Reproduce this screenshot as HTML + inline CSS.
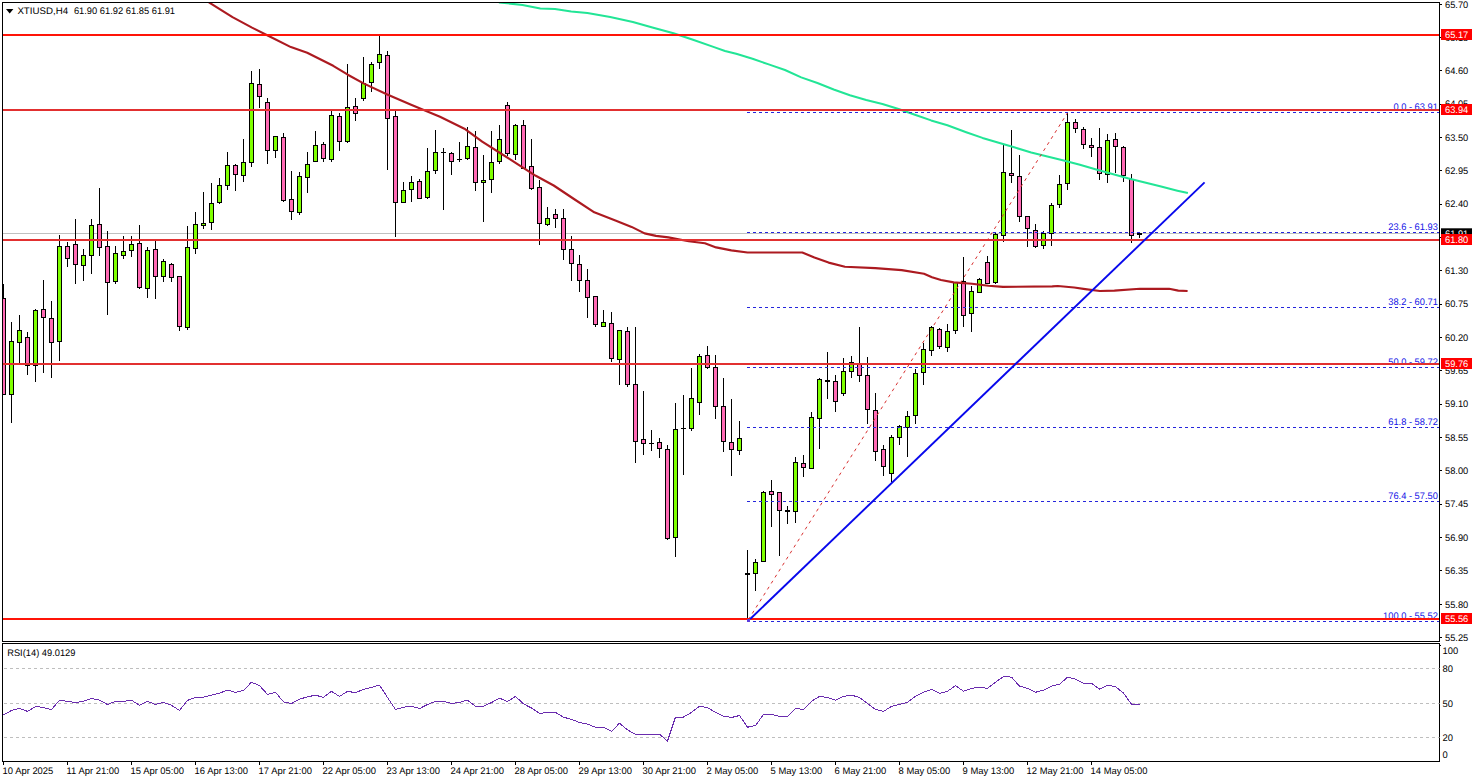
<!DOCTYPE html>
<html><head><meta charset="utf-8"><title>XTIUSD,H4</title>
<style>html,body{margin:0;padding:0;background:#fff;overflow:hidden}svg{display:block;font-family:"Liberation Sans",sans-serif;font-size:9.5px;text-rendering:geometricPrecision}.cr{shape-rendering:crispEdges}text{white-space:pre}</style></head><body>
<svg width="1479" height="782" viewBox="0 0 1479 782">
<rect width="1479" height="782" fill="#fff"/>
<defs><clipPath id="cm"><rect x="3" y="3" width="1436" height="638"/></clipPath><clipPath id="cr"><rect x="3" y="644" width="1436" height="117"/></clipPath></defs>
<rect class="cr" x="3" y="233" width="1436" height="1" fill="#C0C0C0"/>
<g class="cr" clip-path="url(#cm)">
<rect x="3" y="284" width="1" height="111" fill="#000"/>
<rect x="1" y="298" width="5" height="97" fill="#000"/>
<rect x="2" y="299" width="3" height="95" fill="#FF69B4"/>
<rect x="11" y="322" width="1" height="101" fill="#000"/>
<rect x="9" y="341" width="5" height="54" fill="#000"/>
<rect x="10" y="342" width="3" height="52" fill="#7FFF00"/>
<rect x="19" y="315" width="1" height="48" fill="#000"/>
<rect x="17" y="330" width="5" height="13" fill="#000"/>
<rect x="18" y="331" width="3" height="11" fill="#7FFF00"/>
<rect x="27" y="332" width="1" height="43" fill="#000"/>
<rect x="25" y="337" width="5" height="29" fill="#000"/>
<rect x="26" y="338" width="3" height="27" fill="#FF69B4"/>
<rect x="35" y="309" width="1" height="73" fill="#000"/>
<rect x="33" y="310" width="5" height="56" fill="#000"/>
<rect x="34" y="311" width="3" height="54" fill="#7FFF00"/>
<rect x="43" y="280" width="1" height="93" fill="#000"/>
<rect x="41" y="309" width="5" height="9" fill="#000"/>
<rect x="42" y="310" width="3" height="7" fill="#FF69B4"/>
<rect x="51" y="301" width="1" height="77" fill="#000"/>
<rect x="49" y="318" width="5" height="25" fill="#000"/>
<rect x="50" y="319" width="3" height="23" fill="#FF69B4"/>
<rect x="59" y="235" width="1" height="126" fill="#000"/>
<rect x="57" y="246" width="5" height="96" fill="#000"/>
<rect x="58" y="247" width="3" height="94" fill="#7FFF00"/>
<rect x="67" y="242" width="1" height="25" fill="#000"/>
<rect x="65" y="246" width="5" height="13" fill="#000"/>
<rect x="66" y="247" width="3" height="11" fill="#FF69B4"/>
<rect x="75" y="219" width="1" height="65" fill="#000"/>
<rect x="73" y="244" width="5" height="21" fill="#000"/>
<rect x="74" y="245" width="3" height="19" fill="#FF69B4"/>
<rect x="83" y="249" width="1" height="32" fill="#000"/>
<rect x="81" y="255" width="5" height="11" fill="#000"/>
<rect x="82" y="256" width="3" height="9" fill="#7FFF00"/>
<rect x="91" y="219" width="1" height="55" fill="#000"/>
<rect x="89" y="225" width="5" height="31" fill="#000"/>
<rect x="90" y="226" width="3" height="29" fill="#7FFF00"/>
<rect x="99" y="188" width="1" height="68" fill="#000"/>
<rect x="97" y="224" width="5" height="24" fill="#000"/>
<rect x="98" y="225" width="3" height="22" fill="#FF69B4"/>
<rect x="107" y="231" width="1" height="84" fill="#000"/>
<rect x="105" y="246" width="5" height="37" fill="#000"/>
<rect x="106" y="247" width="3" height="35" fill="#FF69B4"/>
<rect x="115" y="246" width="1" height="38" fill="#000"/>
<rect x="113" y="253" width="5" height="29" fill="#000"/>
<rect x="114" y="254" width="3" height="27" fill="#7FFF00"/>
<rect x="123" y="236" width="1" height="23" fill="#000"/>
<rect x="121" y="251" width="5" height="5" fill="#000"/>
<rect x="122" y="252" width="3" height="3" fill="#7FFF00"/>
<rect x="131" y="236" width="1" height="21" fill="#000"/>
<rect x="129" y="244" width="5" height="7" fill="#000"/>
<rect x="130" y="245" width="3" height="5" fill="#7FFF00"/>
<rect x="139" y="225" width="1" height="64" fill="#000"/>
<rect x="137" y="243" width="5" height="45" fill="#000"/>
<rect x="138" y="244" width="3" height="43" fill="#FF69B4"/>
<rect x="147" y="247" width="1" height="51" fill="#000"/>
<rect x="145" y="250" width="5" height="39" fill="#000"/>
<rect x="146" y="251" width="3" height="37" fill="#7FFF00"/>
<rect x="155" y="241" width="1" height="58" fill="#000"/>
<rect x="153" y="249" width="5" height="28" fill="#000"/>
<rect x="154" y="250" width="3" height="26" fill="#FF69B4"/>
<rect x="163" y="259" width="1" height="23" fill="#000"/>
<rect x="161" y="261" width="5" height="16" fill="#000"/>
<rect x="162" y="262" width="3" height="14" fill="#7FFF00"/>
<rect x="171" y="263" width="1" height="19" fill="#000"/>
<rect x="169" y="264" width="5" height="14" fill="#000"/>
<rect x="170" y="265" width="3" height="12" fill="#FF69B4"/>
<rect x="179" y="276" width="1" height="55" fill="#000"/>
<rect x="177" y="276" width="5" height="51" fill="#000"/>
<rect x="178" y="277" width="3" height="49" fill="#FF69B4"/>
<rect x="187" y="226" width="1" height="104" fill="#000"/>
<rect x="185" y="247" width="5" height="81" fill="#000"/>
<rect x="186" y="248" width="3" height="79" fill="#7FFF00"/>
<rect x="195" y="212" width="1" height="42" fill="#000"/>
<rect x="193" y="224" width="5" height="25" fill="#000"/>
<rect x="194" y="225" width="3" height="23" fill="#7FFF00"/>
<rect x="203" y="192" width="1" height="37" fill="#000"/>
<rect x="201" y="223" width="5" height="3" fill="#000"/>
<rect x="202" y="224" width="3" height="1" fill="#7FFF00"/>
<rect x="211" y="183" width="1" height="47" fill="#000"/>
<rect x="209" y="203" width="5" height="20" fill="#000"/>
<rect x="210" y="204" width="3" height="18" fill="#7FFF00"/>
<rect x="219" y="178" width="1" height="26" fill="#000"/>
<rect x="217" y="185" width="5" height="18" fill="#000"/>
<rect x="218" y="186" width="3" height="16" fill="#7FFF00"/>
<rect x="227" y="152" width="1" height="38" fill="#000"/>
<rect x="225" y="165" width="5" height="21" fill="#000"/>
<rect x="226" y="166" width="3" height="19" fill="#7FFF00"/>
<rect x="235" y="164" width="1" height="27" fill="#000"/>
<rect x="233" y="165" width="5" height="10" fill="#000"/>
<rect x="234" y="166" width="3" height="8" fill="#FF69B4"/>
<rect x="243" y="139" width="1" height="43" fill="#000"/>
<rect x="241" y="162" width="5" height="14" fill="#000"/>
<rect x="242" y="163" width="3" height="12" fill="#7FFF00"/>
<rect x="251" y="71" width="1" height="96" fill="#000"/>
<rect x="249" y="83" width="5" height="80" fill="#000"/>
<rect x="250" y="84" width="3" height="78" fill="#7FFF00"/>
<rect x="259" y="69" width="1" height="39" fill="#000"/>
<rect x="257" y="84" width="5" height="13" fill="#000"/>
<rect x="258" y="85" width="3" height="11" fill="#FF69B4"/>
<rect x="267" y="98" width="1" height="66" fill="#000"/>
<rect x="265" y="102" width="5" height="49" fill="#000"/>
<rect x="266" y="103" width="3" height="47" fill="#FF69B4"/>
<rect x="275" y="136" width="1" height="22" fill="#000"/>
<rect x="273" y="136" width="5" height="15" fill="#000"/>
<rect x="274" y="137" width="3" height="13" fill="#7FFF00"/>
<rect x="283" y="133" width="1" height="69" fill="#000"/>
<rect x="281" y="137" width="5" height="64" fill="#000"/>
<rect x="282" y="138" width="3" height="62" fill="#FF69B4"/>
<rect x="291" y="171" width="1" height="49" fill="#000"/>
<rect x="289" y="199" width="5" height="13" fill="#000"/>
<rect x="290" y="200" width="3" height="11" fill="#FF69B4"/>
<rect x="299" y="172" width="1" height="43" fill="#000"/>
<rect x="297" y="176" width="5" height="37" fill="#000"/>
<rect x="298" y="177" width="3" height="35" fill="#7FFF00"/>
<rect x="307" y="152" width="1" height="41" fill="#000"/>
<rect x="305" y="164" width="5" height="14" fill="#000"/>
<rect x="306" y="165" width="3" height="12" fill="#7FFF00"/>
<rect x="315" y="131" width="1" height="31" fill="#000"/>
<rect x="313" y="145" width="5" height="17" fill="#000"/>
<rect x="314" y="146" width="3" height="15" fill="#7FFF00"/>
<rect x="323" y="142" width="1" height="20" fill="#000"/>
<rect x="321" y="144" width="5" height="15" fill="#000"/>
<rect x="322" y="145" width="3" height="13" fill="#FF69B4"/>
<rect x="331" y="111" width="1" height="51" fill="#000"/>
<rect x="329" y="115" width="5" height="45" fill="#000"/>
<rect x="330" y="116" width="3" height="43" fill="#7FFF00"/>
<rect x="339" y="113" width="1" height="38" fill="#000"/>
<rect x="337" y="116" width="5" height="26" fill="#000"/>
<rect x="338" y="117" width="3" height="24" fill="#FF69B4"/>
<rect x="347" y="64" width="1" height="79" fill="#000"/>
<rect x="345" y="107" width="5" height="35" fill="#000"/>
<rect x="346" y="108" width="3" height="33" fill="#7FFF00"/>
<rect x="355" y="98" width="1" height="23" fill="#000"/>
<rect x="353" y="106" width="5" height="8" fill="#000"/>
<rect x="354" y="107" width="3" height="6" fill="#FF69B4"/>
<rect x="363" y="57" width="1" height="44" fill="#000"/>
<rect x="361" y="83" width="5" height="16" fill="#000"/>
<rect x="362" y="84" width="3" height="14" fill="#7FFF00"/>
<rect x="371" y="62" width="1" height="30" fill="#000"/>
<rect x="369" y="64" width="5" height="19" fill="#000"/>
<rect x="370" y="65" width="3" height="17" fill="#7FFF00"/>
<rect x="379" y="36" width="1" height="33" fill="#000"/>
<rect x="377" y="54" width="5" height="9" fill="#000"/>
<rect x="378" y="55" width="3" height="7" fill="#7FFF00"/>
<rect x="387" y="51" width="1" height="119" fill="#000"/>
<rect x="385" y="55" width="5" height="64" fill="#000"/>
<rect x="386" y="56" width="3" height="62" fill="#FF69B4"/>
<rect x="395" y="111" width="1" height="126" fill="#000"/>
<rect x="393" y="116" width="5" height="87" fill="#000"/>
<rect x="394" y="117" width="3" height="85" fill="#FF69B4"/>
<rect x="403" y="182" width="1" height="21" fill="#000"/>
<rect x="401" y="190" width="5" height="13" fill="#000"/>
<rect x="402" y="191" width="3" height="11" fill="#7FFF00"/>
<rect x="411" y="176" width="1" height="26" fill="#000"/>
<rect x="409" y="182" width="5" height="8" fill="#000"/>
<rect x="410" y="183" width="3" height="6" fill="#7FFF00"/>
<rect x="419" y="179" width="1" height="20" fill="#000"/>
<rect x="417" y="181" width="5" height="18" fill="#000"/>
<rect x="418" y="182" width="3" height="16" fill="#FF69B4"/>
<rect x="427" y="148" width="1" height="51" fill="#000"/>
<rect x="425" y="171" width="5" height="27" fill="#000"/>
<rect x="426" y="172" width="3" height="25" fill="#7FFF00"/>
<rect x="435" y="130" width="1" height="44" fill="#000"/>
<rect x="433" y="152" width="5" height="19" fill="#000"/>
<rect x="434" y="153" width="3" height="17" fill="#7FFF00"/>
<rect x="443" y="148" width="1" height="62" fill="#000"/>
<rect x="441" y="152" width="5" height="1" fill="#000"/>
<rect x="451" y="152" width="1" height="23" fill="#000"/>
<rect x="449" y="153" width="5" height="9" fill="#000"/>
<rect x="450" y="154" width="3" height="7" fill="#FF69B4"/>
<rect x="459" y="142" width="1" height="20" fill="#000"/>
<rect x="457" y="159" width="5" height="1" fill="#000"/>
<rect x="467" y="127" width="1" height="33" fill="#000"/>
<rect x="465" y="146" width="5" height="13" fill="#000"/>
<rect x="466" y="147" width="3" height="11" fill="#7FFF00"/>
<rect x="475" y="131" width="1" height="60" fill="#000"/>
<rect x="473" y="147" width="5" height="36" fill="#000"/>
<rect x="474" y="148" width="3" height="34" fill="#FF69B4"/>
<rect x="483" y="155" width="1" height="67" fill="#000"/>
<rect x="481" y="180" width="5" height="3" fill="#000"/>
<rect x="482" y="181" width="3" height="1" fill="#7FFF00"/>
<rect x="491" y="131" width="1" height="62" fill="#000"/>
<rect x="489" y="162" width="5" height="18" fill="#000"/>
<rect x="490" y="163" width="3" height="16" fill="#7FFF00"/>
<rect x="499" y="125" width="1" height="39" fill="#000"/>
<rect x="497" y="139" width="5" height="23" fill="#000"/>
<rect x="498" y="140" width="3" height="21" fill="#7FFF00"/>
<rect x="507" y="102" width="1" height="54" fill="#000"/>
<rect x="505" y="105" width="5" height="49" fill="#000"/>
<rect x="506" y="106" width="3" height="47" fill="#FF69B4"/>
<rect x="515" y="124" width="1" height="36" fill="#000"/>
<rect x="513" y="125" width="5" height="30" fill="#000"/>
<rect x="514" y="126" width="3" height="28" fill="#7FFF00"/>
<rect x="523" y="120" width="1" height="49" fill="#000"/>
<rect x="521" y="125" width="5" height="44" fill="#000"/>
<rect x="522" y="126" width="3" height="42" fill="#FF69B4"/>
<rect x="531" y="139" width="1" height="51" fill="#000"/>
<rect x="529" y="166" width="5" height="23" fill="#000"/>
<rect x="530" y="167" width="3" height="21" fill="#FF69B4"/>
<rect x="539" y="180" width="1" height="65" fill="#000"/>
<rect x="537" y="187" width="5" height="37" fill="#000"/>
<rect x="538" y="188" width="3" height="35" fill="#FF69B4"/>
<rect x="547" y="207" width="1" height="19" fill="#000"/>
<rect x="545" y="218" width="5" height="7" fill="#000"/>
<rect x="546" y="219" width="3" height="5" fill="#7FFF00"/>
<rect x="555" y="209" width="1" height="19" fill="#000"/>
<rect x="553" y="214" width="5" height="5" fill="#000"/>
<rect x="554" y="215" width="3" height="3" fill="#FF69B4"/>
<rect x="563" y="209" width="1" height="51" fill="#000"/>
<rect x="561" y="218" width="5" height="32" fill="#000"/>
<rect x="562" y="219" width="3" height="30" fill="#FF69B4"/>
<rect x="571" y="236" width="1" height="45" fill="#000"/>
<rect x="569" y="249" width="5" height="15" fill="#000"/>
<rect x="570" y="250" width="3" height="13" fill="#FF69B4"/>
<rect x="579" y="255" width="1" height="37" fill="#000"/>
<rect x="577" y="264" width="5" height="17" fill="#000"/>
<rect x="578" y="265" width="3" height="15" fill="#FF69B4"/>
<rect x="587" y="269" width="1" height="49" fill="#000"/>
<rect x="585" y="280" width="5" height="18" fill="#000"/>
<rect x="586" y="281" width="3" height="16" fill="#FF69B4"/>
<rect x="595" y="296" width="1" height="31" fill="#000"/>
<rect x="593" y="296" width="5" height="29" fill="#000"/>
<rect x="594" y="297" width="3" height="27" fill="#FF69B4"/>
<rect x="603" y="310" width="1" height="17" fill="#000"/>
<rect x="601" y="322" width="5" height="5" fill="#000"/>
<rect x="602" y="323" width="3" height="3" fill="#7FFF00"/>
<rect x="611" y="312" width="1" height="50" fill="#000"/>
<rect x="609" y="323" width="5" height="36" fill="#000"/>
<rect x="610" y="324" width="3" height="34" fill="#FF69B4"/>
<rect x="619" y="330" width="1" height="55" fill="#000"/>
<rect x="617" y="330" width="5" height="30" fill="#000"/>
<rect x="618" y="331" width="3" height="28" fill="#7FFF00"/>
<rect x="627" y="327" width="1" height="60" fill="#000"/>
<rect x="625" y="331" width="5" height="54" fill="#000"/>
<rect x="626" y="332" width="3" height="52" fill="#FF69B4"/>
<rect x="635" y="327" width="1" height="136" fill="#000"/>
<rect x="633" y="384" width="5" height="58" fill="#000"/>
<rect x="634" y="385" width="3" height="56" fill="#FF69B4"/>
<rect x="643" y="391" width="1" height="64" fill="#000"/>
<rect x="641" y="439" width="5" height="5" fill="#000"/>
<rect x="642" y="440" width="3" height="3" fill="#FF69B4"/>
<rect x="651" y="430" width="1" height="21" fill="#000"/>
<rect x="649" y="443" width="5" height="1" fill="#000"/>
<rect x="659" y="438" width="1" height="20" fill="#000"/>
<rect x="657" y="442" width="5" height="7" fill="#000"/>
<rect x="658" y="443" width="3" height="5" fill="#FF69B4"/>
<rect x="667" y="445" width="1" height="95" fill="#000"/>
<rect x="665" y="449" width="5" height="90" fill="#000"/>
<rect x="666" y="450" width="3" height="88" fill="#FF69B4"/>
<rect x="675" y="403" width="1" height="154" fill="#000"/>
<rect x="673" y="429" width="5" height="109" fill="#000"/>
<rect x="674" y="430" width="3" height="107" fill="#7FFF00"/>
<rect x="683" y="395" width="1" height="80" fill="#000"/>
<rect x="681" y="428" width="5" height="1" fill="#000"/>
<rect x="691" y="368" width="1" height="63" fill="#000"/>
<rect x="689" y="398" width="5" height="31" fill="#000"/>
<rect x="690" y="399" width="3" height="29" fill="#7FFF00"/>
<rect x="699" y="354" width="1" height="61" fill="#000"/>
<rect x="697" y="356" width="5" height="47" fill="#000"/>
<rect x="698" y="357" width="3" height="45" fill="#7FFF00"/>
<rect x="707" y="346" width="1" height="23" fill="#000"/>
<rect x="705" y="355" width="5" height="13" fill="#000"/>
<rect x="706" y="356" width="3" height="11" fill="#FF69B4"/>
<rect x="715" y="355" width="1" height="64" fill="#000"/>
<rect x="713" y="367" width="5" height="40" fill="#000"/>
<rect x="714" y="368" width="3" height="38" fill="#FF69B4"/>
<rect x="723" y="378" width="1" height="74" fill="#000"/>
<rect x="721" y="406" width="5" height="36" fill="#000"/>
<rect x="722" y="407" width="3" height="34" fill="#FF69B4"/>
<rect x="731" y="399" width="1" height="77" fill="#000"/>
<rect x="729" y="442" width="5" height="8" fill="#000"/>
<rect x="730" y="443" width="3" height="6" fill="#FF69B4"/>
<rect x="739" y="421" width="1" height="34" fill="#000"/>
<rect x="737" y="438" width="5" height="13" fill="#000"/>
<rect x="738" y="439" width="3" height="11" fill="#7FFF00"/>
<rect x="747" y="550" width="1" height="70" fill="#000"/>
<rect x="745" y="573" width="5" height="2" fill="#000"/>
<rect x="755" y="559" width="1" height="32" fill="#000"/>
<rect x="753" y="562" width="5" height="12" fill="#000"/>
<rect x="754" y="563" width="3" height="10" fill="#7FFF00"/>
<rect x="763" y="491" width="1" height="71" fill="#000"/>
<rect x="761" y="492" width="5" height="70" fill="#000"/>
<rect x="762" y="493" width="3" height="68" fill="#7FFF00"/>
<rect x="771" y="480" width="1" height="47" fill="#000"/>
<rect x="769" y="491" width="5" height="4" fill="#000"/>
<rect x="770" y="492" width="3" height="2" fill="#FF69B4"/>
<rect x="779" y="492" width="1" height="64" fill="#000"/>
<rect x="777" y="492" width="5" height="19" fill="#000"/>
<rect x="778" y="493" width="3" height="17" fill="#FF69B4"/>
<rect x="787" y="506" width="1" height="18" fill="#000"/>
<rect x="785" y="510" width="5" height="2" fill="#000"/>
<rect x="795" y="457" width="1" height="66" fill="#000"/>
<rect x="793" y="462" width="5" height="50" fill="#000"/>
<rect x="794" y="463" width="3" height="48" fill="#7FFF00"/>
<rect x="803" y="455" width="1" height="22" fill="#000"/>
<rect x="801" y="463" width="5" height="5" fill="#000"/>
<rect x="802" y="464" width="3" height="3" fill="#FF69B4"/>
<rect x="811" y="412" width="1" height="57" fill="#000"/>
<rect x="809" y="417" width="5" height="52" fill="#000"/>
<rect x="810" y="418" width="3" height="50" fill="#7FFF00"/>
<rect x="819" y="378" width="1" height="71" fill="#000"/>
<rect x="817" y="379" width="5" height="40" fill="#000"/>
<rect x="818" y="380" width="3" height="38" fill="#7FFF00"/>
<rect x="827" y="352" width="1" height="47" fill="#000"/>
<rect x="825" y="380" width="5" height="2" fill="#000"/>
<rect x="835" y="375" width="1" height="37" fill="#000"/>
<rect x="833" y="381" width="5" height="21" fill="#000"/>
<rect x="834" y="382" width="3" height="19" fill="#FF69B4"/>
<rect x="843" y="358" width="1" height="38" fill="#000"/>
<rect x="841" y="371" width="5" height="23" fill="#000"/>
<rect x="842" y="372" width="3" height="21" fill="#7FFF00"/>
<rect x="851" y="356" width="1" height="22" fill="#000"/>
<rect x="849" y="362" width="5" height="10" fill="#000"/>
<rect x="850" y="363" width="3" height="8" fill="#7FFF00"/>
<rect x="859" y="327" width="1" height="55" fill="#000"/>
<rect x="857" y="363" width="5" height="13" fill="#000"/>
<rect x="858" y="364" width="3" height="11" fill="#FF69B4"/>
<rect x="867" y="357" width="1" height="67" fill="#000"/>
<rect x="865" y="375" width="5" height="35" fill="#000"/>
<rect x="866" y="376" width="3" height="33" fill="#FF69B4"/>
<rect x="875" y="393" width="1" height="68" fill="#000"/>
<rect x="873" y="410" width="5" height="42" fill="#000"/>
<rect x="874" y="411" width="3" height="40" fill="#FF69B4"/>
<rect x="883" y="445" width="1" height="31" fill="#000"/>
<rect x="881" y="449" width="5" height="18" fill="#000"/>
<rect x="882" y="450" width="3" height="16" fill="#FF69B4"/>
<rect x="891" y="435" width="1" height="47" fill="#000"/>
<rect x="889" y="437" width="5" height="37" fill="#000"/>
<rect x="890" y="438" width="3" height="35" fill="#7FFF00"/>
<rect x="899" y="425" width="1" height="20" fill="#000"/>
<rect x="897" y="426" width="5" height="12" fill="#000"/>
<rect x="898" y="427" width="3" height="10" fill="#7FFF00"/>
<rect x="907" y="411" width="1" height="46" fill="#000"/>
<rect x="905" y="416" width="5" height="12" fill="#000"/>
<rect x="906" y="417" width="3" height="10" fill="#7FFF00"/>
<rect x="915" y="369" width="1" height="55" fill="#000"/>
<rect x="913" y="373" width="5" height="43" fill="#000"/>
<rect x="914" y="374" width="3" height="41" fill="#7FFF00"/>
<rect x="923" y="343" width="1" height="42" fill="#000"/>
<rect x="921" y="349" width="5" height="24" fill="#000"/>
<rect x="922" y="350" width="3" height="22" fill="#7FFF00"/>
<rect x="931" y="326" width="1" height="30" fill="#000"/>
<rect x="929" y="327" width="5" height="24" fill="#000"/>
<rect x="930" y="328" width="3" height="22" fill="#7FFF00"/>
<rect x="939" y="328" width="1" height="21" fill="#000"/>
<rect x="937" y="329" width="5" height="18" fill="#000"/>
<rect x="938" y="330" width="3" height="16" fill="#FF69B4"/>
<rect x="947" y="324" width="1" height="28" fill="#000"/>
<rect x="945" y="331" width="5" height="17" fill="#000"/>
<rect x="946" y="332" width="3" height="15" fill="#7FFF00"/>
<rect x="955" y="282" width="1" height="52" fill="#000"/>
<rect x="953" y="282" width="5" height="49" fill="#000"/>
<rect x="954" y="283" width="3" height="47" fill="#7FFF00"/>
<rect x="963" y="257" width="1" height="70" fill="#000"/>
<rect x="961" y="281" width="5" height="35" fill="#000"/>
<rect x="962" y="282" width="3" height="33" fill="#FF69B4"/>
<rect x="971" y="286" width="1" height="46" fill="#000"/>
<rect x="969" y="291" width="5" height="23" fill="#000"/>
<rect x="970" y="292" width="3" height="21" fill="#7FFF00"/>
<rect x="979" y="278" width="1" height="15" fill="#000"/>
<rect x="977" y="279" width="5" height="14" fill="#000"/>
<rect x="978" y="280" width="3" height="12" fill="#7FFF00"/>
<rect x="987" y="256" width="1" height="28" fill="#000"/>
<rect x="985" y="262" width="5" height="22" fill="#000"/>
<rect x="986" y="263" width="3" height="20" fill="#FF69B4"/>
<rect x="995" y="233" width="1" height="51" fill="#000"/>
<rect x="993" y="234" width="5" height="49" fill="#000"/>
<rect x="994" y="235" width="3" height="47" fill="#7FFF00"/>
<rect x="1003" y="145" width="1" height="97" fill="#000"/>
<rect x="1001" y="172" width="5" height="64" fill="#000"/>
<rect x="1002" y="173" width="3" height="62" fill="#7FFF00"/>
<rect x="1011" y="130" width="1" height="53" fill="#000"/>
<rect x="1009" y="173" width="5" height="3" fill="#000"/>
<rect x="1010" y="174" width="3" height="1" fill="#FF69B4"/>
<rect x="1019" y="155" width="1" height="67" fill="#000"/>
<rect x="1017" y="176" width="5" height="41" fill="#000"/>
<rect x="1018" y="177" width="3" height="39" fill="#FF69B4"/>
<rect x="1027" y="216" width="1" height="31" fill="#000"/>
<rect x="1025" y="216" width="5" height="13" fill="#000"/>
<rect x="1026" y="217" width="3" height="11" fill="#FF69B4"/>
<rect x="1035" y="224" width="1" height="24" fill="#000"/>
<rect x="1033" y="230" width="5" height="17" fill="#000"/>
<rect x="1034" y="231" width="3" height="15" fill="#FF69B4"/>
<rect x="1043" y="231" width="1" height="18" fill="#000"/>
<rect x="1041" y="233" width="5" height="13" fill="#000"/>
<rect x="1042" y="234" width="3" height="11" fill="#7FFF00"/>
<rect x="1051" y="203" width="1" height="43" fill="#000"/>
<rect x="1049" y="205" width="5" height="29" fill="#000"/>
<rect x="1050" y="206" width="3" height="27" fill="#7FFF00"/>
<rect x="1059" y="175" width="1" height="33" fill="#000"/>
<rect x="1057" y="184" width="5" height="21" fill="#000"/>
<rect x="1058" y="185" width="3" height="19" fill="#7FFF00"/>
<rect x="1067" y="113" width="1" height="77" fill="#000"/>
<rect x="1065" y="122" width="5" height="62" fill="#000"/>
<rect x="1066" y="123" width="3" height="60" fill="#7FFF00"/>
<rect x="1075" y="119" width="1" height="14" fill="#000"/>
<rect x="1073" y="122" width="5" height="7" fill="#000"/>
<rect x="1074" y="123" width="3" height="5" fill="#FF69B4"/>
<rect x="1083" y="127" width="1" height="22" fill="#000"/>
<rect x="1081" y="129" width="5" height="16" fill="#000"/>
<rect x="1082" y="130" width="3" height="14" fill="#FF69B4"/>
<rect x="1091" y="138" width="1" height="19" fill="#000"/>
<rect x="1089" y="145" width="5" height="3" fill="#000"/>
<rect x="1090" y="146" width="3" height="1" fill="#FF69B4"/>
<rect x="1099" y="128" width="1" height="52" fill="#000"/>
<rect x="1097" y="147" width="5" height="27" fill="#000"/>
<rect x="1098" y="148" width="3" height="25" fill="#FF69B4"/>
<rect x="1107" y="134" width="1" height="49" fill="#000"/>
<rect x="1105" y="140" width="5" height="35" fill="#000"/>
<rect x="1106" y="141" width="3" height="33" fill="#7FFF00"/>
<rect x="1115" y="133" width="1" height="40" fill="#000"/>
<rect x="1113" y="139" width="5" height="8" fill="#000"/>
<rect x="1114" y="140" width="3" height="6" fill="#FF69B4"/>
<rect x="1123" y="146" width="1" height="36" fill="#000"/>
<rect x="1121" y="147" width="5" height="29" fill="#000"/>
<rect x="1122" y="148" width="3" height="27" fill="#FF69B4"/>
<rect x="1131" y="174" width="1" height="69" fill="#000"/>
<rect x="1129" y="179" width="5" height="57" fill="#000"/>
<rect x="1130" y="180" width="3" height="55" fill="#FF69B4"/>
<rect x="1139" y="232" width="1" height="6" fill="#000"/>
<rect x="1137" y="233" width="5" height="2" fill="#000"/>
</g>
<g clip-path="url(#cm)">
<polyline fill="none" stroke="#AC1A20" stroke-width="2.15" stroke-linejoin="round"  points="208.9,2.4 232.5,17.1 252,27.6 268.2,35.7 290.9,47.1 307.2,52.8 333.2,65.8 347.8,74.7 364,83.6 386.7,94.2 411.1,104.7 440,116.7 464.4,128.7 482.2,141.7 500.1,153 517.9,164.4 535.8,175.8 553.7,185.5 573.2,198.5 594.3,212.3 615.4,220.4 631.6,226.9 644.6,233.4 656,235.9 668.4,237.4 688.7,241.3 704.9,243.3 716.1,247.4 731.3,250.4 747.5,252.5 802.3,252.5 814.4,257.5 828.6,262.6 844.9,266.7 875.3,268.1 901.7,270.1 924,273.8 932,277.2 941,280 953.7,282.4 972,283.8 988.4,285.7 1003,286.9 1052.3,286.4 1057.8,286 1074.2,287.5 1085.2,289.1 1099.8,291 1114.4,290.6 1139.9,288.8 1169.1,288.8 1178.3,290.6 1187.6,291"/>
<polyline fill="none" stroke="#22E596" stroke-width="2.05" stroke-linejoin="round"  points="498.9,2.4 522.5,4.9 540.3,8.4 555,8.9 571.2,11.4 587.4,13 610.2,17.1 632.9,21.9 652.4,27.6 673.5,33.3 693,39.8 714.1,47.1 725,51 736.2,53.8 752.5,58.7 768.7,64.4 785,70 801.2,77.4 817.4,83 833.7,89.5 849.9,95.2 866.2,100.1 882.4,104.1 898.6,109 914.9,114.7 931.1,120.4 947.4,125.3 966.2,132.2 982.5,137.9 998.7,142.8 1015,147.6 1031.2,152.5 1047.4,156.6 1063.7,160.6 1079.9,164.7 1096.2,169.6 1112.4,174.1 1128.6,178.5 1144.9,182.6 1161.1,186.6 1177.4,190.7 1187.9,193.1"/>
</g>
<line class="cr" x1="747" x2="1439" y1="112.5" y2="112.5" stroke="#2626DC" stroke-width="1" stroke-dasharray="3 3"/>
<line class="cr" x1="747" x2="1439" y1="232.5" y2="232.5" stroke="#2626DC" stroke-width="1" stroke-dasharray="3 3"/>
<line class="cr" x1="747" x2="1439" y1="307.5" y2="307.5" stroke="#2626DC" stroke-width="1" stroke-dasharray="3 3"/>
<line class="cr" x1="747" x2="1439" y1="367.5" y2="367.5" stroke="#2626DC" stroke-width="1" stroke-dasharray="3 3"/>
<line class="cr" x1="747" x2="1439" y1="427.5" y2="427.5" stroke="#2626DC" stroke-width="1" stroke-dasharray="3 3"/>
<line class="cr" x1="747" x2="1439" y1="501.5" y2="501.5" stroke="#2626DC" stroke-width="1" stroke-dasharray="3 3"/>
<line class="cr" x1="747" x2="1439" y1="621.5" y2="621.5" stroke="#2626DC" stroke-width="1" stroke-dasharray="3 3"/>
<text x="1393.43" y="110" fill="#1414E6" textLength="44.47" lengthAdjust="spacingAndGlyphs">0.0 - 63.91</text>
<text x="1388.26" y="230" fill="#1414E6" textLength="49.64" lengthAdjust="spacingAndGlyphs">23.6 - 61.93</text>
<text x="1388.26" y="305" fill="#1414E6" textLength="49.64" lengthAdjust="spacingAndGlyphs">38.2 - 60.71</text>
<text x="1388.26" y="365" fill="#1414E6" textLength="49.64" lengthAdjust="spacingAndGlyphs">50.0 - 59.72</text>
<text x="1388.26" y="425" fill="#1414E6" textLength="49.64" lengthAdjust="spacingAndGlyphs">61.8 - 58.72</text>
<text x="1388.26" y="499" fill="#1414E6" textLength="49.64" lengthAdjust="spacingAndGlyphs">76.4 - 57.50</text>
<text x="1383.09" y="619" fill="#1414E6" textLength="54.81" lengthAdjust="spacingAndGlyphs">100.0 - 55.52</text>
<line x1="748.5" y1="619.5" x2="1067.4" y2="113" stroke="#D83030" stroke-width="1" stroke-dasharray="3.1 4"/>
<rect x="3" y="34" width="1437" height="2" fill="#FF1408"/>
<rect x="3" y="109" width="1437" height="2" fill="#E23030"/>
<rect x="3" y="239" width="1437" height="2" fill="#E23030"/>
<rect x="3" y="363" width="1437" height="2" fill="#E23030"/>
<rect x="3" y="618" width="1437" height="2" fill="#FF1408"/>
<line x1="750.2" y1="619" x2="1204.6" y2="182.4" stroke="#0808EC" stroke-width="1.9" stroke-linecap="butt" clip-path="url(#cm)"/>
<rect x="747" y="619" width="3" height="3" fill="#5A3CE0"/>
<g class="cr" fill="#000">
<rect x="2" y="2" width="1438" height="1"/>
<rect x="2" y="2" width="1" height="760"/>
<rect x="1439" y="2" width="1" height="760"/>
<rect x="2" y="641" width="1438" height="1"/>
<rect x="2" y="643" width="1438" height="1"/>
<rect x="2" y="761" width="1438" height="1"/>
<rect x="2" y="642" width="1438" height="1" fill="#fff"/>
</g>
<g class="cr" fill="#000">
<rect x="1440" y="4" width="2" height="1"/>
<rect x="1440" y="37" width="2" height="1"/>
<rect x="1440" y="70" width="2" height="1"/>
<rect x="1440" y="104" width="2" height="1"/>
<rect x="1440" y="137" width="2" height="1"/>
<rect x="1440" y="170" width="2" height="1"/>
<rect x="1440" y="204" width="2" height="1"/>
<rect x="1440" y="237" width="2" height="1"/>
<rect x="1440" y="270" width="2" height="1"/>
<rect x="1440" y="304" width="2" height="1"/>
<rect x="1440" y="337" width="2" height="1"/>
<rect x="1440" y="370" width="2" height="1"/>
<rect x="1440" y="404" width="2" height="1"/>
<rect x="1440" y="437" width="2" height="1"/>
<rect x="1440" y="470" width="2" height="1"/>
<rect x="1440" y="504" width="2" height="1"/>
<rect x="1440" y="537" width="2" height="1"/>
<rect x="1440" y="570" width="2" height="1"/>
<rect x="1440" y="604" width="2" height="1"/>
<rect x="1440" y="637" width="2" height="1"/>
</g>
<text x="1445" y="7.86" fill="#000" textLength="23.27" lengthAdjust="spacingAndGlyphs">65.70</text>
<text x="1445" y="40.79" fill="#000" textLength="23.27" lengthAdjust="spacingAndGlyphs">65.15</text>
<text x="1445" y="74.13" fill="#000" textLength="23.27" lengthAdjust="spacingAndGlyphs">64.60</text>
<text x="1445" y="107.46" fill="#000" textLength="23.27" lengthAdjust="spacingAndGlyphs">64.05</text>
<text x="1445" y="140.8" fill="#000" textLength="23.27" lengthAdjust="spacingAndGlyphs">63.50</text>
<text x="1445" y="174.14" fill="#000" textLength="23.27" lengthAdjust="spacingAndGlyphs">62.95</text>
<text x="1445" y="207.47" fill="#000" textLength="23.27" lengthAdjust="spacingAndGlyphs">62.40</text>
<text x="1445" y="240.81" fill="#000" textLength="23.27" lengthAdjust="spacingAndGlyphs">61.85</text>
<text x="1445" y="274.14" fill="#000" textLength="23.27" lengthAdjust="spacingAndGlyphs">61.30</text>
<text x="1445" y="307.48" fill="#000" textLength="23.27" lengthAdjust="spacingAndGlyphs">60.75</text>
<text x="1445" y="340.81" fill="#000" textLength="23.27" lengthAdjust="spacingAndGlyphs">60.20</text>
<text x="1445" y="374.15" fill="#000" textLength="23.27" lengthAdjust="spacingAndGlyphs">59.65</text>
<text x="1445" y="407.48" fill="#000" textLength="23.27" lengthAdjust="spacingAndGlyphs">59.10</text>
<text x="1445" y="440.82" fill="#000" textLength="23.27" lengthAdjust="spacingAndGlyphs">58.55</text>
<text x="1445" y="474.16" fill="#000" textLength="23.27" lengthAdjust="spacingAndGlyphs">58.00</text>
<text x="1445" y="507.49" fill="#000" textLength="23.27" lengthAdjust="spacingAndGlyphs">57.45</text>
<text x="1445" y="540.83" fill="#000" textLength="23.27" lengthAdjust="spacingAndGlyphs">56.90</text>
<text x="1445" y="574.16" fill="#000" textLength="23.27" lengthAdjust="spacingAndGlyphs">56.35</text>
<text x="1445" y="607.5" fill="#000" textLength="23.27" lengthAdjust="spacingAndGlyphs">55.80</text>
<text x="1445" y="640.83" fill="#000" textLength="23.27" lengthAdjust="spacingAndGlyphs">55.25</text>
<rect x="1441" y="228.3" width="31" height="11" fill="#000"/>
<text x="1445" y="237.1" fill="#fff" textLength="23.27" lengthAdjust="spacingAndGlyphs">61.91</text>
<rect x="1441" y="29" width="31" height="11" fill="#FF0000"/>
<text x="1445" y="37.8" fill="#fff" textLength="23.27" lengthAdjust="spacingAndGlyphs">65.17</text>
<rect x="1441" y="104" width="31" height="11" fill="#FF0000"/>
<text x="1445" y="112.8" fill="#fff" textLength="23.27" lengthAdjust="spacingAndGlyphs">63.94</text>
<rect x="1441" y="234" width="31" height="11" fill="#FF0000"/>
<text x="1445" y="242.8" fill="#fff" textLength="23.27" lengthAdjust="spacingAndGlyphs">61.80</text>
<rect x="1441" y="358" width="31" height="11" fill="#FF0000"/>
<text x="1445" y="366.8" fill="#fff" textLength="23.27" lengthAdjust="spacingAndGlyphs">59.76</text>
<rect x="1441" y="613" width="31" height="11" fill="#FF0000"/>
<text x="1445" y="621.8" fill="#fff" textLength="23.27" lengthAdjust="spacingAndGlyphs">55.56</text>
<path d="M6 9 L13.4 9 L9.7 13.4 Z" fill="#000"/>
<text x="17.4" y="14" fill="#000" textLength="50.66" lengthAdjust="spacingAndGlyphs">XTIUSD,H4</text>
<text x="73.9" y="14" fill="#000" textLength="101.17" lengthAdjust="spacingAndGlyphs">61.90 61.92 61.85 61.91</text>
<text x="7.2" y="655.9" fill="#000" textLength="68.24" lengthAdjust="spacingAndGlyphs">RSI(14) 49.0129</text>
<line class="cr" x1="4" x2="1439" y1="668.5" y2="668.5" stroke="#BEBEBE" stroke-width="1" stroke-dasharray="3 3"/>
<line class="cr" x1="4" x2="1439" y1="703.5" y2="703.5" stroke="#BEBEBE" stroke-width="1" stroke-dasharray="3 3"/>
<line class="cr" x1="4" x2="1439" y1="737.5" y2="737.5" stroke="#BEBEBE" stroke-width="1" stroke-dasharray="3 3"/>
<g clip-path="url(#cr)">
<polyline fill="none" stroke="#6A2CAE" stroke-width="1" stroke-linejoin="round" shape-rendering="crispEdges" points="3.5,715.1 11.5,710.4 19.5,708.4 27.5,711.4 35.5,706.5 43.5,707.5 51.5,709.6 59.5,700.2 67.5,701.3 75.5,702.5 83.5,701.3 91.5,698.4 99.5,700.2 107.5,704.5 115.5,701.3 123.5,701.3 131.5,700.2 139.5,705.3 147.5,701.3 155.5,704.5 163.5,702.3 171.5,705.3 179.5,710.4 187.5,700.4 195.5,697.4 203.5,697.2 211.5,695.2 219.5,693.1 227.5,690.1 235.5,692.3 243.5,690.3 251.5,682.2 259.5,685.6 267.5,694.4 275.5,692.3 283.5,701.9 291.5,703.5 299.5,699.2 307.5,696.8 315.5,695.2 323.5,697.4 331.5,691.3 339.5,696.4 347.5,691.3 355.5,692.7 363.5,689.3 371.5,687.3 379.5,685.2 387.5,697.4 395.5,709.4 403.5,707.3 411.5,706.1 419.5,708.6 427.5,704.5 435.5,701.3 443.5,701.3 451.5,703.5 459.5,702.3 467.5,700.2 475.5,706.3 483.5,706.3 491.5,702.5 499.5,698.2 507.5,701.5 515.5,696.4 523.5,703.9 531.5,708 539.5,713.4 547.5,712.4 555.5,712.4 563.5,717.1 571.5,719.5 579.5,722.4 587.5,724.2 595.5,727.2 603.5,727.2 611.5,731.3 619.5,723.2 627.5,729.9 635.5,734.3 643.5,734.3 651.5,734.3 659.5,734.3 667.5,741 675.5,717.1 683.5,717.1 691.5,712.4 699.5,706.3 707.5,707.5 715.5,712.4 723.5,716.1 731.5,717.5 739.5,715.5 747.5,727.2 755.5,725.6 763.5,714.4 771.5,714.4 779.5,716.5 787.5,716.5 795.5,708.4 803.5,709.4 811.5,701.3 819.5,696.4 827.5,697.4 835.5,700.2 843.5,696.4 851.5,695.2 859.5,697.4 867.5,703.5 875.5,709.4 883.5,711.4 891.5,706.3 899.5,704.3 907.5,702.3 915.5,696.2 923.5,692.3 931.5,689.3 939.5,693.3 947.5,691.3 955.5,685.6 963.5,691.3 971.5,688.3 979.5,687.3 987.5,688.3 995.5,682.2 1003.5,676.5 1011.5,677.1 1019.5,686.2 1027.5,688.3 1035.5,692.3 1043.5,690.1 1051.5,686.2 1059.5,684.2 1067.5,677.3 1075.5,679.1 1083.5,683.2 1091.5,683.2 1099.5,689.1 1107.5,685.2 1115.5,686.7 1123.5,693.1 1131.5,704.3 1139.5,704.3"/>
</g>
<rect class="cr" x="1440" y="645" width="1" height="1" fill="#000"/>
<rect class="cr" x="1439" y="668" width="1" height="1" fill="#707070"/>
<rect class="cr" x="1439" y="703" width="1" height="1" fill="#707070"/>
<rect class="cr" x="1439" y="737" width="1" height="1" fill="#707070"/>
<text x="1442.6" y="654.1" fill="#000" textLength="15.68" lengthAdjust="spacingAndGlyphs">100</text>
<text x="1442.6" y="672.1" fill="#000" textLength="10.46" lengthAdjust="spacingAndGlyphs">80</text>
<text x="1442.6" y="707.1" fill="#000" textLength="10.46" lengthAdjust="spacingAndGlyphs">50</text>
<text x="1442.6" y="741.2" fill="#000" textLength="10.46" lengthAdjust="spacingAndGlyphs">20</text>
<text x="1442.6" y="758.3" fill="#000" textLength="5.23" lengthAdjust="spacingAndGlyphs">0</text>
<g class="cr" fill="#000">
<rect x="3" y="762" width="1" height="3"/>
<rect x="67" y="762" width="1" height="3"/>
<rect x="131" y="762" width="1" height="3"/>
<rect x="195" y="762" width="1" height="3"/>
<rect x="259" y="762" width="1" height="3"/>
<rect x="323" y="762" width="1" height="3"/>
<rect x="387" y="762" width="1" height="3"/>
<rect x="451" y="762" width="1" height="3"/>
<rect x="515" y="762" width="1" height="3"/>
<rect x="579" y="762" width="1" height="3"/>
<rect x="643" y="762" width="1" height="3"/>
<rect x="707" y="762" width="1" height="3"/>
<rect x="771" y="762" width="1" height="3"/>
<rect x="835" y="762" width="1" height="3"/>
<rect x="899" y="762" width="1" height="3"/>
<rect x="963" y="762" width="1" height="3"/>
<rect x="1027" y="762" width="1" height="3"/>
<rect x="1091" y="762" width="1" height="3"/>
</g>
<text x="2.6" y="773.7" fill="#000" textLength="50.7" lengthAdjust="spacingAndGlyphs">10 Apr 2025</text>
<text x="66.6" y="773.7" fill="#000" textLength="52.61" lengthAdjust="spacingAndGlyphs">11 Apr 21:00</text>
<text x="130.6" y="773.7" fill="#000" textLength="53.31" lengthAdjust="spacingAndGlyphs">15 Apr 05:00</text>
<text x="194.6" y="773.7" fill="#000" textLength="53.31" lengthAdjust="spacingAndGlyphs">16 Apr 13:00</text>
<text x="258.6" y="773.7" fill="#000" textLength="53.31" lengthAdjust="spacingAndGlyphs">17 Apr 21:00</text>
<text x="322.6" y="773.7" fill="#000" textLength="53.31" lengthAdjust="spacingAndGlyphs">22 Apr 05:00</text>
<text x="386.6" y="773.7" fill="#000" textLength="53.31" lengthAdjust="spacingAndGlyphs">23 Apr 13:00</text>
<text x="450.6" y="773.7" fill="#000" textLength="53.31" lengthAdjust="spacingAndGlyphs">24 Apr 21:00</text>
<text x="514.6" y="773.7" fill="#000" textLength="53.31" lengthAdjust="spacingAndGlyphs">28 Apr 05:00</text>
<text x="578.6" y="773.7" fill="#000" textLength="53.31" lengthAdjust="spacingAndGlyphs">29 Apr 13:00</text>
<text x="642.6" y="773.7" fill="#000" textLength="53.31" lengthAdjust="spacingAndGlyphs">30 Apr 21:00</text>
<text x="706.6" y="773.7" fill="#000" textLength="51.73" lengthAdjust="spacingAndGlyphs">2 May 05:00</text>
<text x="770.6" y="773.7" fill="#000" textLength="51.73" lengthAdjust="spacingAndGlyphs">5 May 13:00</text>
<text x="834.6" y="773.7" fill="#000" textLength="51.73" lengthAdjust="spacingAndGlyphs">6 May 21:00</text>
<text x="898.6" y="773.7" fill="#000" textLength="51.73" lengthAdjust="spacingAndGlyphs">8 May 05:00</text>
<text x="962.6" y="773.7" fill="#000" textLength="51.73" lengthAdjust="spacingAndGlyphs">9 May 13:00</text>
<text x="1026.6" y="773.7" fill="#000" textLength="56.96" lengthAdjust="spacingAndGlyphs">12 May 21:00</text>
<text x="1090.6" y="773.7" fill="#000" textLength="56.96" lengthAdjust="spacingAndGlyphs">14 May 05:00</text>
</svg></body></html>
